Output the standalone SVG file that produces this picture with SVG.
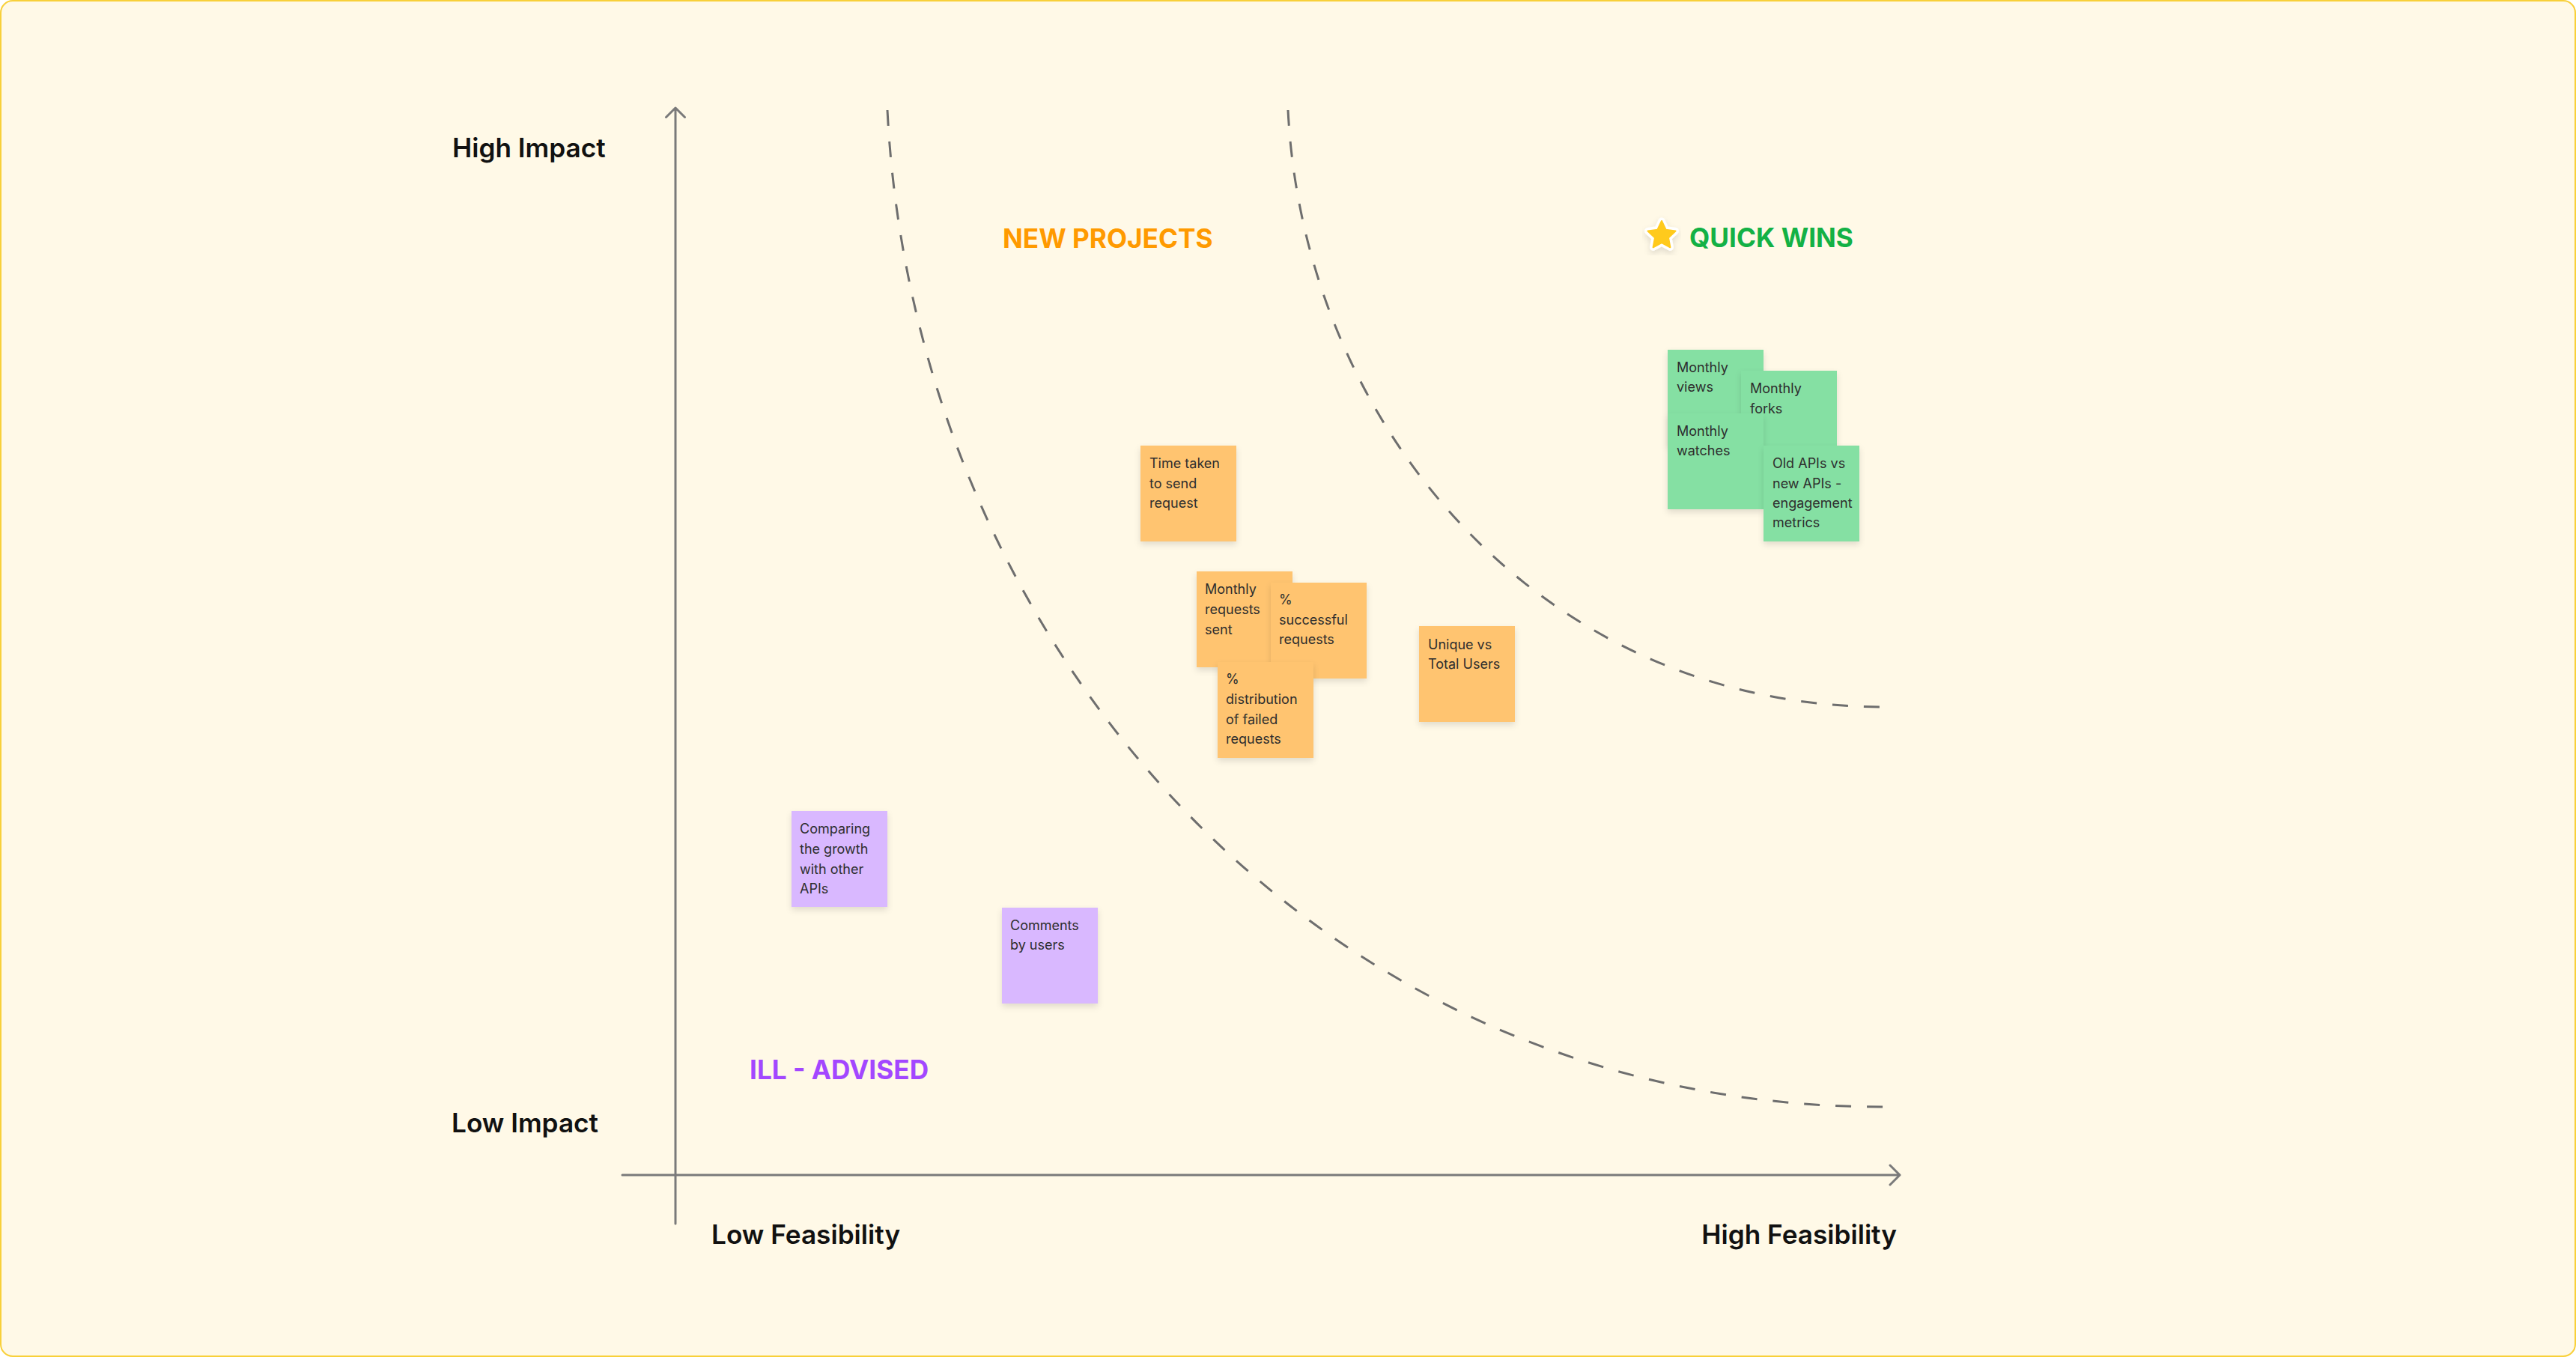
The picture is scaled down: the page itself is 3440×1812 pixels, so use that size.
<svg xmlns="http://www.w3.org/2000/svg" width="3440" height="1812" viewBox="0 0 3440 1812">
<style>
.axis{stroke:#7a7a7a;stroke-width:3;fill:none;stroke-linecap:round;stroke-linejoin:round}
.curve{stroke:#6e6e6e;stroke-width:3;fill:none;stroke-dasharray:21 21}
.lbl{font-family:Inter,"Noto Sans","Liberation Sans",sans-serif;font-weight:600;font-size:35.2px;fill:#111}
.ttl{font-family:Inter,"Noto Sans","Liberation Sans",sans-serif;font-weight:700;font-size:35.2px}
.note text{font-family:Inter,"Noto Sans","Liberation Sans",sans-serif;font-size:18px;fill:#2e2e2e}
.orange rect{fill:#ffc470}
.green rect{fill:#85e0a3}
.purple rect{fill:#d9b8ff}
</style>
<defs>
<filter id="sh" x="-20%" y="-20%" width="140%" height="150%">
<feDropShadow dx="0" dy="4" stdDeviation="4" flood-color="#000" flood-opacity="0.12"/>
</filter>
</defs>
<rect x="1" y="1" width="3438" height="1810" rx="16" ry="16" fill="#fff9e7" stroke="#f8d03a" stroke-width="2"/>

<g id="connectors">
<path class="axis" d="M902 1634 V144 M889.5 156.5 L902 144 L914.5 156.5"/>
<path class="axis" d="M831 1569 H2537 M2524 1556 L2537 1569 L2524 1582"/>
<path class="curve" d="M1185 147 C1220 850 1750 1480 2518 1478"/>
<path class="curve" d="M1720 147 C1741 568 2058 945 2518 944"/>
</g>

<g id="label-high-impact"><text class="lbl" x="604" y="210">High Impact</text></g>
<g id="label-low-impact"><text class="lbl" x="603" y="1512">Low Impact</text></g>
<g id="label-low-feasibility"><text class="lbl" x="950" y="1661">Low Feasibility</text></g>
<g id="label-high-feasibility"><text class="lbl" x="2533" y="1661" text-anchor="end">High Feasibility</text></g>

<g id="title-new-projects"><text class="ttl" x="1339" y="331" fill="#ff9a00">NEW PROJECTS</text></g>
<g id="title-quick-wins">
<polygon points="2219,295 2224.6,306.7 2237.5,308.5 2228,317.4 2230.4,330.3 2219,324 2207.6,330.3 2210,317.4 2200.5,308.5 2213.4,306.7" fill="#fff" stroke="#fff" stroke-width="9" stroke-linejoin="round" filter="url(#sh)"/>
<polygon points="2219,295 2224.6,306.7 2237.5,308.5 2228,317.4 2230.4,330.3 2219,324 2207.6,330.3 2210,317.4 2200.5,308.5 2213.4,306.7" fill="#ffca1c" stroke="#ffca1c" stroke-width="2" stroke-linejoin="round"/>
<text class="ttl" x="2256" y="330" fill="#13b145">QUICK WINS</text>
</g>
<g id="title-ill-advised"><text class="ttl" x="1001" y="1441" fill="#a347ff">ILL - ADVISED</text></g>

<g id="note-time-taken" class="note orange">
<rect x="1523" y="595" width="128" height="128" filter="url(#sh)"/>
<text x="1535" y="625">Time taken</text><text x="1535" y="652">to send</text><text x="1535" y="678">request</text>
</g>
<g id="note-unique-users" class="note orange">
<rect x="1895" y="836" width="128" height="128" filter="url(#sh)"/>
<text x="1907" y="867">Unique vs</text><text x="1907" y="893">Total Users</text>
</g>
<g id="note-monthly-requests" class="note orange">
<rect x="1598" y="763" width="128" height="128" filter="url(#sh)"/>
<text x="1609" y="793">Monthly</text><text x="1609" y="820">requests</text><text x="1609" y="847">sent</text>
</g>
<g id="note-successful" class="note orange">
<rect x="1697" y="778" width="128" height="128" filter="url(#sh)"/>
<text x="1708" y="807">%</text><text x="1708" y="834">successful</text><text x="1708" y="860">requests</text>
</g>
<g id="note-failed" class="note orange">
<rect x="1626" y="884" width="128" height="128" filter="url(#sh)"/>
<text x="1637" y="913">%</text><text x="1637" y="940">distribution</text><text x="1637" y="967">of failed</text><text x="1637" y="993">requests</text>
</g>

<g id="note-monthly-views" class="note green">
<rect x="2227" y="467" width="128" height="128" filter="url(#sh)"/>
<text x="2239" y="497">Monthly</text><text x="2239" y="523">views</text>
</g>
<g id="note-monthly-forks" class="note green">
<rect x="2325" y="495" width="128" height="128" filter="url(#sh)"/>
<text x="2337" y="525">Monthly</text><text x="2337" y="552">forks</text>
</g>
<g id="note-monthly-watches" class="note green">
<rect x="2227" y="552" width="128" height="128" filter="url(#sh)"/>
<text x="2239" y="582">Monthly</text><text x="2239" y="608">watches</text>
</g>
<g id="note-old-new-apis" class="note green">
<rect x="2355" y="595" width="128" height="128" filter="url(#sh)"/>
<text x="2367" y="625">Old APIs vs</text><text x="2367" y="652">new APIs -</text><text x="2367" y="678">engagement</text><text x="2367" y="704">metrics</text>
</g>

<g id="note-comparing-growth" class="note purple">
<rect x="1057" y="1083" width="128" height="128" filter="url(#sh)"/>
<text x="1068" y="1113">Comparing</text><text x="1068" y="1140">the growth</text><text x="1068" y="1167">with other</text><text x="1068" y="1193">APIs</text>
</g>
<g id="note-comments" class="note purple">
<rect x="1338" y="1212" width="128" height="128" filter="url(#sh)"/>
<text x="1349" y="1242">Comments</text><text x="1349" y="1268">by users</text>
</g>
</svg>
